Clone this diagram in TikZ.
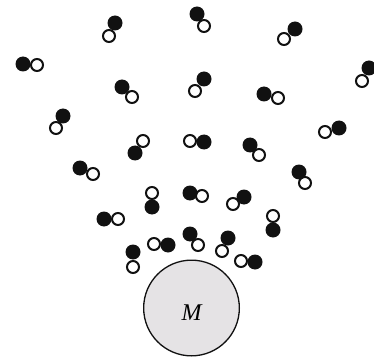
\documentclass[tikz,border=0pt]{standalone}
\usepackage{fontspec}
\newfontfamily\mfont{Liberation Serif}
\definecolor{dotblack}{HTML}{111111}
\definecolor{massgray}{HTML}{E5E3E5}
\tikzset{
  bdot/.style={circle, fill=dotblack, inner sep=0pt, minimum size=15pt},
  wdot/.style={circle, draw=dotblack, fill=white, line width=2pt, inner sep=0pt, minimum size=12pt},
  mass/.style={circle, draw=dotblack, fill=massgray, line width=1.3pt, inner sep=0pt, minimum size=95.7pt},
}
\begin{document}
\begin{tikzpicture}[x=1pt,y=-1pt]
\useasboundingbox (0,0) rectangle (374,358);
\node[mass] (m) at (191.5,308) {};
\node[inner sep=0pt] (mlabel) at (191.7,313) {\mfont\itshape\fontsize{24}{26}\selectfont M};
\foreach \i/\bx/\by/\wx/\wy in {
 1/115/23/109/36, 2/23/64/37/65, 3/122/87/132/97, 4/63/116/56/128,
 5/135/153/143/141, 6/80/168/93/174, 7/197/14/204/26, 8/295/29/284/39,
 9/204/79/195/91, 10/369/68/362/81, 11/264/94/278/98, 12/204/142/190/141,
 13/250/145/259/155, 14/339/128/325/132, 15/299/172/305/183, 16/152/207/152/193,
 17/104/219/118/219, 18/168/245/154/244, 19/133/252/133/267, 20/190/193/202/196,
 21/190/234/198/245, 22/244/197/233/204, 23/273/230/273/216, 24/228/238/222/251,
 25/255/262/241/261}{
  \node[wdot] (w\i) at (\wx,\wy) {};
  \node[bdot] (b\i) at (\bx,\by) {};
}
\end{tikzpicture}
\end{document}
